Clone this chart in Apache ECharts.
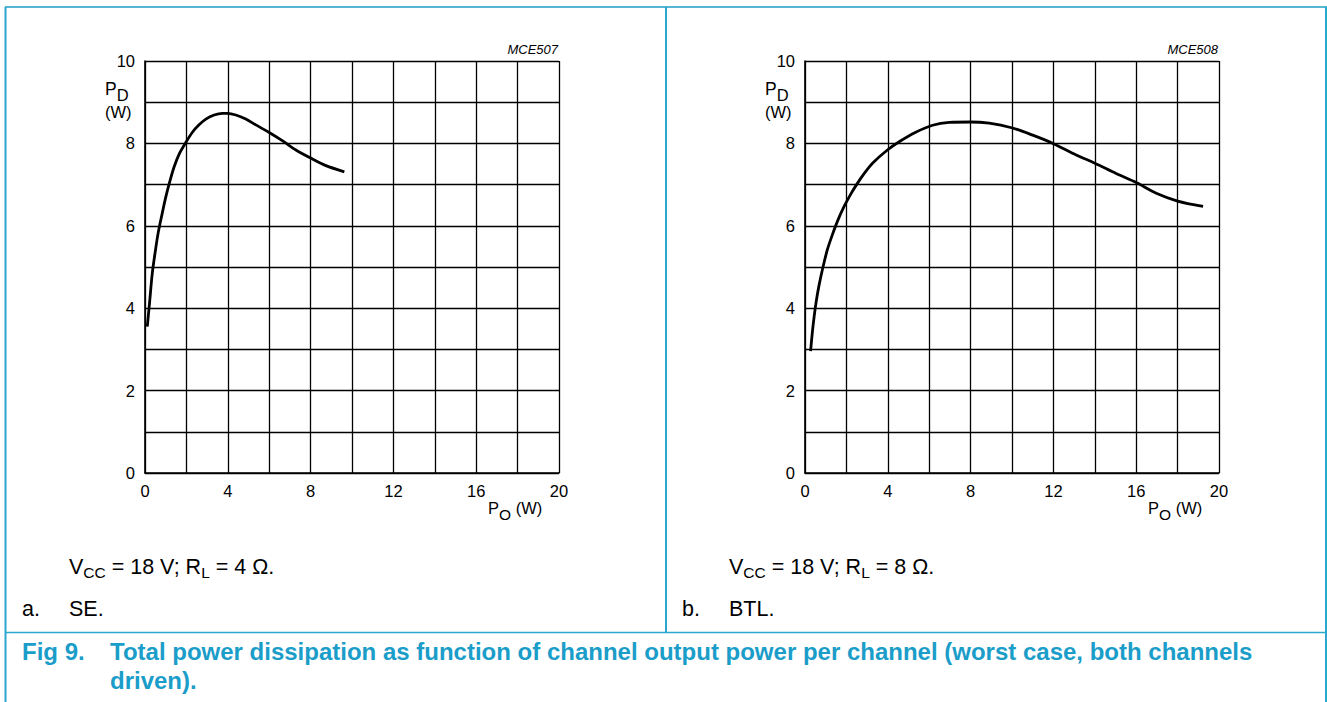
<!DOCTYPE html>
<html><head><meta charset="utf-8">
<script src="https://cdn.jsdelivr.net/npm/echarts@6/dist/echarts.min.js"></script>
<style>html,body{margin:0;padding:0;background:#fff}#c{width:1327px;height:702px}</style>
</head><body><div id="c"></div>
<script>
// ---- data ----
const xTickLabels = [0, 4, 8, 12, 16, 20];
const yTickLabels = [0, 2, 4, 6, 8, 10];
// (a) SE, VCC = 18 V, RL = 4 ohm
const seX = [0.11, 0.23, 0.35, 0.48, 0.63, 0.81, 1.0, 1.19, 1.40, 1.65, 1.97, 2.29, 2.61, 2.94, 3.34, 3.74, 3.98, 4.39, 4.87, 5.35, 5.98, 6.65, 7.29, 7.98, 8.74, 9.63];
const seY = [3.55, 4.19, 4.84, 5.32, 5.81, 6.25, 6.69, 7.06, 7.42, 7.74, 8.02, 8.27, 8.45, 8.59, 8.69, 8.73, 8.73, 8.69, 8.59, 8.45, 8.27, 8.06, 7.84, 7.65, 7.46, 7.31];
// (b) BTL, VCC = 18 V, RL = 8 ohm
const btlX = [0.27, 0.35, 0.44, 0.55, 0.68, 0.87, 1.08, 1.32, 1.6, 1.89, 2.21, 2.53, 2.89, 3.26, 3.98, 4.55, 5.35, 6.16, 6.97, 7.98, 8.9, 9.98, 11.0, 11.98, 13.1, 14.0, 15.03, 16.0, 16.97, 18.0, 19.23];
const btlY = [2.96, 3.39, 3.79, 4.19, 4.56, 5.0, 5.42, 5.78, 6.15, 6.47, 6.77, 7.03, 7.29, 7.52, 7.84, 8.04, 8.27, 8.44, 8.51, 8.52, 8.49, 8.38, 8.2, 8.0, 7.72, 7.52, 7.27, 7.05, 6.79, 6.6, 6.47];

const FONT = '"Liberation Sans", Arial, Helvetica, sans-serif';
const zip = (a, b) => a.map((v, i) => [v, b[i]]);

const chart = echarts.init(document.getElementById('c'), null, {renderer: 'svg'});

function xAxisCfg(gi) {
  return {
    type: 'value', gridIndex: gi, min: 0, max: 20, interval: 2,
    axisLine: {show: true, lineStyle: {color: '#000', width: 1.6}},
    axisTick: {show: false},
    splitLine: {show: true, lineStyle: {color: '#000', width: 1.3}},
    axisLabel: {
      margin: 9, fontSize: 16.5, color: '#000', fontFamily: FONT,
      formatter: v => (xTickLabels.indexOf(v) >= 0 ? String(v) : '')
    }
  };
}
function yAxisCfg(gi) {
  return {
    type: 'value', gridIndex: gi, min: 0, max: 10, interval: 1,
    axisLine: {show: true, lineStyle: {color: '#000', width: 1.6}},
    axisTick: {show: false},
    splitLine: {show: true, lineStyle: {color: '#000', width: 1.3}},
    axisLabel: {
      margin: 10, fontSize: 16.5, color: '#000', fontFamily: FONT,
      formatter: v => (yTickLabels.indexOf(v) >= 0 ? String(v) : '')
    }
  };
}

const TEAL = '#2aa6cf';
const CAP = '#1b9dc9';

function txt(x, y, text, extra) {
  return {
    type: 'text', x: x, y: y, silent: true,
    style: Object.assign({
      text: text, fontSize: 16, fontFamily: FONT, fill: '#000',
      align: 'left', verticalAlign: 'middle', textAlign: 'left', textVerticalAlign: 'middle'
    }, extra || {})
  };
}
function line(x1, y1, x2, y2, w, c) {
  return {type: 'line', silent: true, shape: {x1, y1, x2, y2}, style: {stroke: c || TEAL, lineWidth: w}};
}

function panelTexts(dx, code, rl, letter, name) {
  return [
    txt(105 + dx, 88.5, '{n|P}{s|D}', {rich: {n: {fontSize: 17.5, fontFamily: FONT, fill: '#000'}, s: {fontSize: 16.5, fontFamily: FONT, fill: '#000', padding: [12, 0, 0, 0]}}}),
    txt(105 + dx, 112, '(W)', {fontSize: 16.5}),
    txt(558 + dx, 49, code, {fontSize: 13, fontStyle: 'italic', align: 'right', textAlign: 'right'}),
    txt(488 + dx, 508, '{n|P}{s|O}{n| (W)}', {rich: {n: {fontSize: 16.5, fontFamily: FONT, fill: '#000'}, s: {fontSize: 15.5, fontFamily: FONT, fill: '#000', padding: [12, 0, 0, 0]}}}),
    txt(69 + dx, 567, '{n|V}{s|CC}{n| = 18 V; R}{s|L}{n| = ' + rl + ' Ω.}', {rich: {n: {fontSize: 21.5, fontFamily: FONT, fill: '#000'}, s: {fontSize: 15.5, fontFamily: FONT, fill: '#000', padding: [10, 0, 0, 0]}}}),
    txt(22 + dx, 609, letter, {fontSize: 21.5}),
    txt(69 + dx, 609, name, {fontSize: 21.5})
  ];
}

const option = {
  animation: false,
  backgroundColor: '#fff',
  grid: [
    {left: 145, top: 61, width: 414, height: 412},
    {left: 805, top: 61, width: 414, height: 412}
  ],
  xAxis: [xAxisCfg(0), xAxisCfg(1)],
  yAxis: [yAxisCfg(0), yAxisCfg(1)],
  series: [
    {type: 'line', xAxisIndex: 0, yAxisIndex: 0, data: zip(seX, seY), smooth: 0.3, showSymbol: false,
     lineStyle: {color: '#000', width: 2.8}},
    {type: 'line', xAxisIndex: 1, yAxisIndex: 1, data: zip(btlX, btlY), smooth: 0.3, showSymbol: false,
     lineStyle: {color: '#000', width: 2.8}}
  ],
  graphic: [
    line(5, 7, 1327, 7, 1.5, '#1f9cc3'),
    line(5.5, 7, 5.5, 702, 2),
    line(666, 7, 666, 632, 2),
    line(1326, 7, 1326, 702, 2),
    line(5, 632.5, 1327, 632.5, 1.5),
    ...panelTexts(0, 'MCE507', '4', 'a.', 'SE.'),
    ...panelTexts(660, 'MCE508', '8', 'b.', 'BTL.'),
    txt(22, 651, 'Fig 9.', {fontSize: 24, fontWeight: 'bold', fill: CAP}),
    txt(110, 651, 'Total power dissipation as function of channel output power per channel (worst case, both channels', {fontSize: 24, fontWeight: 'bold', fill: CAP}),
    txt(110, 680, 'driven).', {fontSize: 24, fontWeight: 'bold', fill: CAP})
  ]
};
chart.setOption(option);
</script>
</body></html>
